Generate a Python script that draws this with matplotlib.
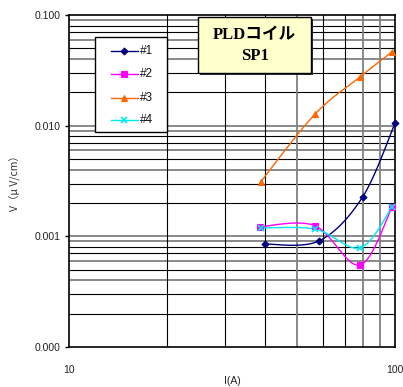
import numpy as np
import matplotlib
matplotlib.use("Agg")
import matplotlib.pyplot as plt
from matplotlib.patches import Rectangle
from matplotlib.lines import Line2D
from matplotlib.ticker import FixedLocator, FuncFormatter, NullFormatter

plt.rcParams['font.family'] = ['Liberation Sans', 'Noto Sans CJK JP', 'DejaVu Sans']

# Measured data: current I (A) vs voltage V (uV/cm)
series_names = ["#1", "#2", "#3", "#4"]
x1 = [40.0, 58.5, 79.5, 100.0]
y1 = [0.00085, 0.00091, 0.00226, 0.0105]
x2 = [38.5, 56.7, 78.0, 98.0]
y2 = [0.00122, 0.00125, 0.00055, 0.00184]
x3 = [38.7, 56.8, 78.0, 98.0]
y3 = [0.0031, 0.0127, 0.0275, 0.0466]
x4 = [38.7, 57.0, 78.2, 98.0]
y4 = [0.00119, 0.00116, 0.00079, 0.00184]

colors = ["#000080", "#FF00FF", "#FF6600", "#00E8F0"]
markers = ["D", "s", "^", "x"]
msizes = [3.5, 4.5, 5, 5]

W, H = 403, 387
fig = plt.figure(figsize=(W / 100, H / 100), dpi=100)
L, R, T, B = 69, 395, 15, 347
ax = fig.add_axes([L / W, 1 - B / H, (R - L) / W, (B - T) / H])
ax.set_xscale('log')
ax.set_yscale('log')
ax.set_xlim(10, 100)
ax.set_ylim(0.0001, 0.1)


def smooth(xs, ys, n=30):
    """Bezier smoothing through points in log space (Excel-like smoothed line)."""
    P = np.column_stack([np.log10(xs), np.log10(ys)])
    ext = np.vstack([P[0], P, P[-1]])
    out = []
    for i in range(len(P) - 1):
        p0, p1, p2, p3 = ext[i], ext[i + 1], ext[i + 2], ext[i + 3]
        c1 = p1 + (p2 - p0) / 6
        c2 = p2 - (p3 - p1) / 6
        t = np.linspace(0, 1, n)[:, None]
        seg = ((1 - t) ** 3) * p1 + 3 * ((1 - t) ** 2) * t * c1 + 3 * (1 - t) * t ** 2 * c2 + t ** 3 * p2
        out.append(seg if i == 0 else seg[1:])
    seg = np.vstack(out)
    return 10 ** seg[:, 0], 10 ** seg[:, 1]


# Grid lines
ygrid_gray = {4, 6, 9}
for d in [1e-4, 1e-3, 1e-2]:
    for m in range(2, 10):
        v = m * d
        if m in ygrid_gray:
            ax.axhline(v, color='#808080', lw=1.3, zorder=1)
        else:
            ax.axhline(v, color='black', lw=0.8, zorder=1)
for v in [1e-3, 1e-2]:
    ax.axhline(v, color='#808080', lw=1.3, zorder=1)
xgrid_gray = {50, 80, 90}
for v in range(20, 100, 10):
    if v in xgrid_gray:
        ax.axvline(v, color='#808080', lw=1.3, zorder=1)
    else:
        ax.axvline(v, color='black', lw=0.8, zorder=1)

data = [(x1, y1), (x2, y2), (x3, y3), (x4, y4)]
for (xs, ys), c, mk, ms in zip(data, colors, markers, msizes):
    sx, sy = smooth(xs, ys)
    ax.plot(sx, sy, color=c, lw=1.0, zorder=3)
    ax.plot(xs, ys, linestyle='none', marker=mk, color=c, markersize=ms,
            markeredgewidth=1.2 if mk == 'x' else 0.8, zorder=4, clip_on=False)

for s in ax.spines.values():
    s.set_linewidth(1.2)
    s.set_color('black')

ax.yaxis.set_major_locator(FixedLocator([1e-4, 1e-3, 1e-2, 1e-1]))
ax.yaxis.set_major_formatter(FuncFormatter(lambda v, p: f"{v:.3f}"))
ax.yaxis.set_minor_formatter(NullFormatter())
ax.xaxis.set_major_locator(FixedLocator([10, 100]))
ax.xaxis.set_major_formatter(FuncFormatter(lambda v, p: f"{v:.0f}"))
ax.xaxis.set_minor_formatter(NullFormatter())
ax.tick_params(axis='both', which='minor', length=0)
ax.tick_params(axis='y', which='major', length=3, width=1, direction='out', labelsize=7.5, pad=3)
ax.tick_params(axis='x', which='major', length=0, labelsize=7.5, pad=13)
for lab in ax.get_xticklabels() + ax.get_yticklabels():
    lab.set_color('#222222')

fig.text(15 / W, 1 - 181 / H, "V（μ V/cm）", rotation=90, ha='center', va='center',
         fontsize=7.5, color='#333333', family=['Noto Sans CJK JP', 'DejaVu Sans'])
fig.text(232 / W, 1 - 386.5 / H, "I(A)", ha='center', va='bottom', fontsize=7.5, color='#222222')


def fx(px):
    return px / W


def fy(py):
    return 1 - py / H


def fig_rect(x0, y0, x1_, y1_, **kw):
    return Rectangle((fx(x0), fy(y1_)), (x1_ - x0) / W, (y1_ - y0) / H,
                     transform=fig.transFigure, **kw)


# Legend box drawn in figure pixels
fig.patches.append(fig_rect(95, 37, 167, 132, facecolor='white', edgecolor='black', lw=1.0, zorder=6))
row_y = [51, 74, 98, 120]
for ry, c, mk, ms, name in zip(row_y, colors, markers, msizes, series_names):
    fig.lines.append(Line2D([fx(111), fx(138)], [fy(ry), fy(ry)], color=c, lw=1.0,
                            transform=fig.transFigure, zorder=7))
    fig.lines.append(Line2D([fx(124.5)], [fy(ry)], color=c, marker=mk, markersize=ms,
                            markeredgewidth=1.2 if mk == 'x' else 0.8, linestyle='none',
                            transform=fig.transFigure, zorder=7))
    fig.text(fx(140), fy(ry), name, ha='left', va='center', fontsize=8.5, zorder=7,
             color='#111111')

# Title box with a drop shadow
fig.patches.append(fig_rect(200, 19, 313, 75, facecolor='#303030', edgecolor='none', zorder=7))
fig.patches.append(fig_rect(198, 17, 311, 73, facecolor='#FFFFCC', edgecolor='black', lw=1.0, zorder=8))
fig.text(254.5 / W, 1 - 35 / H, "PLDコイル", ha='center', va='center', fontsize=12,
         fontweight='bold', family=['Liberation Serif', 'Noto Sans CJK JP'], zorder=9)
fig.text(254.5 / W, 1 - 56.5 / H, "SP1", ha='center', va='center', fontsize=12,
         fontweight='bold', family=['Liberation Serif', 'Noto Sans CJK JP'], zorder=9)

fig.savefig("out.png", dpi=100)
